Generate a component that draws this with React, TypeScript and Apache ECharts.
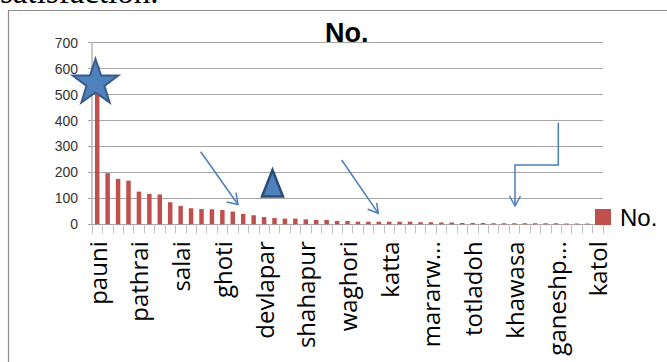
import { useEffect, useRef } from "react";
import * as echarts from "echarts";

const categories: string[] = [
  "pauni", "", "", "",
  "pathrai", "", "", "",
  "salai", "", "", "",
  "ghoti", "", "", "",
  "devlapar", "", "", "",
  "shahapur", "", "", "",
  "waghori", "", "", "",
  "katta", "", "", "",
  "mararw...", "", "", "",
  "totladoh", "", "", "",
  "khawasa", "", "", "",
  "ganeshp...", "", "", "",
  "katol",
];

const values: number[] = [
  610, 197, 175, 168,
  126, 117, 115, 85,
  71, 62, 59, 58,
  55, 49, 40, 35,
  28, 24, 22, 22,
  19, 17, 17, 13,
  13, 10, 10, 10,
  10, 10, 10, 8,
  8, 7, 7, 5,
  5, 5, 4, 4,
  4, 4, 4, 4,
  4, 3, 3, 3,
  2,
];

const seriesName = "No.";
const yMin = 0;
const yMax = 700;
const yInterval = 100;

function starPoints(cx: number, cy: number, rOut: number, rIn: number) {
  const pts: number[][] = [];
  for (let k = 0; k < 10; k++) {
    const r = k % 2 === 0 ? rOut : rIn;
    const a = -Math.PI / 2 + (k * Math.PI) / 5;
    pts.push([cx + r * Math.cos(a), cy + r * Math.sin(a)]);
  }
  return pts;
}

export default function App() {
  const ref = useRef<HTMLDivElement>(null);
  useEffect(() => {
    const chart = echarts.init(ref.current!, null, { renderer: "svg" });
    const arrowColor = "#4a7ebb";
    const arrowStyle = { stroke: arrowColor, lineWidth: 1.5, fill: null };
    chart.setOption({
      animation: false,
      backgroundColor: "#ffffff",
      title: {
        text: "No.",
        left: 320,
        top: 14,
        textStyle: {
          fontFamily: "Liberation Sans",
          fontWeight: "bold",
          fontSize: 27,
          color: "#000",
        },
      },
      legend: {
        data: [seriesName],
        icon: "rect",
        itemWidth: 16,
        itemHeight: 16,
        left: 595,
        top: 205,
        padding: 0,
        textStyle: {
          fontFamily: "Liberation Sans",
          fontSize: 24,
          color: "#000",
          padding: [0, 0, 0, 4],
        },
      },
      grid: {
        left: 92,
        right: 64,
        top: 42.7,
        bottom: 137.7,
        containLabel: false,
      },
      xAxis: {
        type: "category",
        data: categories,
        axisLine: { lineStyle: { color: "#a6a6a6", width: 1 } },
        axisTick: {
          show: true,
          interval: 0,
          length: 9,
          alignWithLabel: false,
          lineStyle: { color: "#bfbfbf" },
        },
        axisLabel: {
          interval: 3,
          rotate: 90,
          margin: 17,
          fontFamily: "Open Sans",
          fontSize: 24,
          color: "#000",
        },
      },
      yAxis: {
        type: "value",
        min: yMin,
        max: yMax,
        interval: yInterval,
        axisLine: { show: true, lineStyle: { color: "#c8c8c8", width: 2 } },
        axisTick: { show: true, length: 4, lineStyle: { color: "#a6a6a6" } },
        splitLine: { lineStyle: { color: "#a6a6a6", width: 1 } },
        axisLabel: {
          margin: 14,
          fontFamily: "Liberation Sans",
          fontSize: 14,
          color: "#333",
        },
      },
      series: [
        {
          name: seriesName,
          type: "bar",
          data: values,
          barWidth: 4.5,
          itemStyle: { color: "#c0504d" },
        },
      ],
      graphic: [
        {
          type: "text",
          x: 0,
          y: -8.5,
          z: 100,
          style: {
            text: "satisfaction.",
            font: '33px "Liberation Serif"',
            fill: "#000",
            verticalAlign: "middle",
          },
        },
        {
          type: "rect",
          z: 100,
          shape: { x: 8.5, y: 10.5, width: 720, height: 420 },
          style: { fill: null, stroke: "#8c8c8c", lineWidth: 1.2 },
        },
        {
          type: "polygon",
          z: 100,
          shape: { points: starPoints(95.5, 83, 24, 9.4) },
          style: { fill: "#4f81bd", stroke: "#385d8a", lineWidth: 2 },
        },
        {
          type: "polygon",
          z: 100,
          shape: { points: [[272.5, 170], [262, 196.5], [283, 196.5]] },
          style: { fill: "#4f81bd", stroke: "#2c4d75", lineWidth: 2.5, lineJoin: "miter" },
        },
        {
          type: "polyline",
          z: 100,
          shape: { points: [[200.7, 151.7], [238, 204.5]] },
          style: arrowStyle,
        },
        {
          type: "polyline",
          z: 100,
          shape: { points: [[236, 192.7], [238, 204.5], [226.7, 202]] },
          style: arrowStyle,
        },
        {
          type: "polyline",
          z: 100,
          shape: { points: [[341.7, 160], [378.3, 213.3]] },
          style: arrowStyle,
        },
        {
          type: "polyline",
          z: 100,
          shape: { points: [[376.7, 203], [378.3, 213.3], [367.7, 209.3]] },
          style: arrowStyle,
        },
        {
          type: "polyline",
          z: 100,
          shape: { points: [[558.3, 122.7], [558.3, 165], [515, 165], [515, 206]] },
          style: arrowStyle,
        },
        {
          type: "polyline",
          z: 100,
          shape: { points: [[509.5, 196], [515, 206], [520.5, 196]] },
          style: arrowStyle,
        },
      ],
    });
    return () => chart.dispose();
  }, []);
  return (
    <div
      ref={ref}
      style={{
        position: "absolute",
        left: 0,
        top: 0,
        width: 667,
        height: 362,
        background: "#fff",
      }}
    />
  );
}
